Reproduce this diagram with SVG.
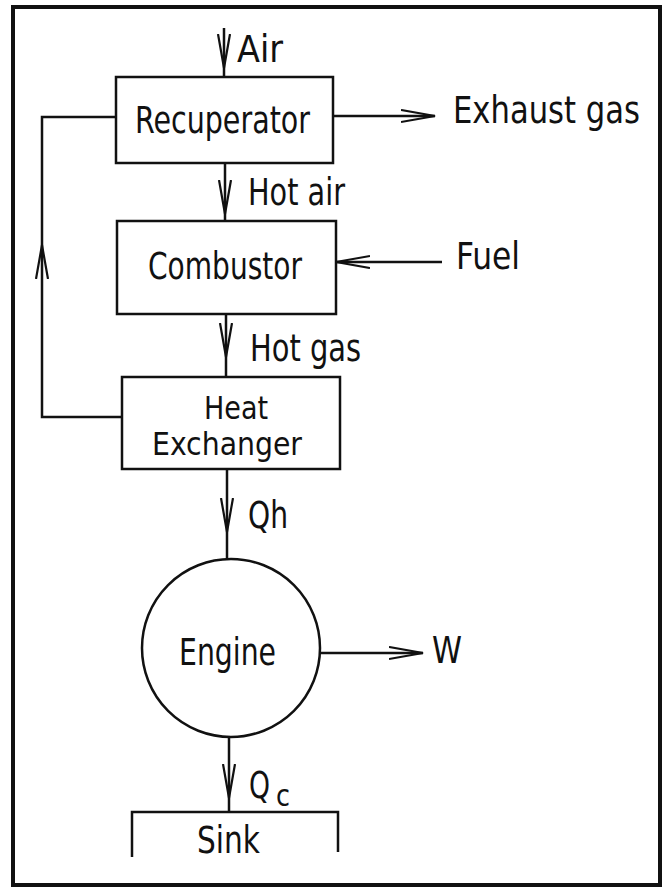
<svg xmlns="http://www.w3.org/2000/svg" width="667" height="889" viewBox="0 0 667 889">
  <style>
    .box { fill: none; stroke: #111; stroke-width: 2.5; }
    .ln { fill: none; stroke: #111; stroke-width: 2.5; }
    .t { font-family: "Liberation Sans Narrow", "DejaVu Sans Condensed", "Liberation Sans", sans-serif; font-size: 37px; fill: #111; }
    .hx { font-size: 32px; }
    .sub { font-size: 30px; }
  </style>
  <defs>
    <marker id="arr" markerUnits="userSpaceOnUse" markerWidth="40" markerHeight="16" refX="34" refY="7" orient="auto">
      <path d="M0,1 L34,7 L0,13" fill="none" stroke="#111" stroke-width="2.2"/>
    </marker>
  </defs>
  <rect x="0" y="0" width="667" height="889" fill="#fff"/>
  <rect id="frame" x="13" y="7" width="647" height="878" fill="none" stroke="#111" stroke-width="4"/>

  <g id="connectors">
    <path class="ln" d="M224 28 V68 V77" marker-mid="url(#arr)"/>
    <path class="ln" d="M333 116 H435" marker-end="url(#arr)"/>
    <path class="ln" d="M122 417 H42 V245" marker-end="url(#arr)"/>
    <path class="ln" d="M42 245 V117 H116"/>
    <path class="ln" d="M225 163 V214 V221" marker-mid="url(#arr)"/>
    <path class="ln" d="M442 262 H336" marker-end="url(#arr)"/>
    <path class="ln" d="M226 314 V357 V377" marker-mid="url(#arr)"/>
    <path class="ln" d="M227 469 V532 V559" marker-mid="url(#arr)"/>
    <path class="ln" d="M319 653 H423" marker-end="url(#arr)"/>
    <path class="ln" d="M229 737 V798 V812" marker-mid="url(#arr)"/>
    <text class="t" x="237" y="62" textLength="46" lengthAdjust="spacingAndGlyphs">Air</text>
    <text class="t" x="453" y="123" textLength="187" lengthAdjust="spacingAndGlyphs">Exhaust gas</text>
    <text class="t" x="248" y="205" textLength="97" lengthAdjust="spacingAndGlyphs">Hot air</text>
    <text class="t" x="456" y="269" textLength="64" lengthAdjust="spacingAndGlyphs">Fuel</text>
    <text class="t" x="250" y="361" textLength="111" lengthAdjust="spacingAndGlyphs">Hot gas</text>
    <text class="t" x="248" y="528" textLength="40" lengthAdjust="spacingAndGlyphs">Qh</text>
    <text class="t" x="432" y="663" textLength="30" lengthAdjust="spacingAndGlyphs">W</text>
    <text class="t" x="249" y="798" textLength="21" lengthAdjust="spacingAndGlyphs">Q</text>
    <text class="t sub" x="276" y="806" textLength="14" lengthAdjust="spacingAndGlyphs">c</text>
  </g>

  <g id="recuperator">
    <rect class="box" x="116" y="77" width="217" height="86"/>
    <text class="t" x="135" y="133" textLength="175" lengthAdjust="spacingAndGlyphs">Recuperator</text>
  </g>
  <g id="combustor">
    <rect class="box" x="117" y="221" width="219" height="93"/>
    <text class="t" x="148" y="279" textLength="154" lengthAdjust="spacingAndGlyphs">Combustor</text>
  </g>
  <g id="heat-exchanger">
    <rect class="box" x="122" y="377" width="218" height="92"/>
    <text class="t hx" x="204" y="419" textLength="64" lengthAdjust="spacingAndGlyphs">Heat</text>
    <text class="t hx" x="152" y="455" textLength="150" lengthAdjust="spacingAndGlyphs">Exchanger</text>
  </g>
  <g id="engine">
    <circle class="box" cx="231" cy="648" r="89"/>
    <text class="t" x="179" y="665" textLength="97" lengthAdjust="spacingAndGlyphs">Engine</text>
  </g>
  <g id="sink">
    <path class="box" d="M132 857 V812 H338 V852"/>
    <text class="t" x="197" y="853" textLength="63" lengthAdjust="spacingAndGlyphs">Sink</text>
  </g>
</svg>
